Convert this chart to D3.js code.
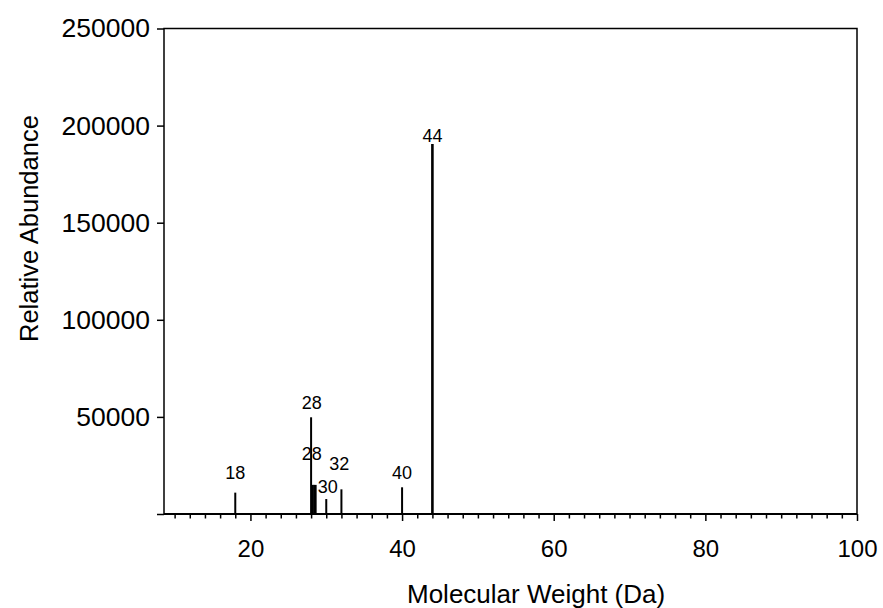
<!DOCTYPE html>
<html>
<head>
<meta charset="utf-8">
<script src="https://cdn.jsdelivr.net/npm/d3@7"></script>
<style>
  body { margin: 0; background: #fff; }
  text { font-family: "Liberation Sans", Arial, sans-serif; fill: #000; }
</style>
</head>
<body>
<svg id="chart" width="883" height="608"></svg>
<script>
// peak positions (m/z) and their heights
const peakMz = [18, 28, 28.2, 28.4, 28.6, 30, 32, 40, 44];
const peakAbundance = [11000, 49800, 15000, 15000, 15000, 7700, 12700, 13750, 190500];

// peak labels: text, where it sits (m/z) and at which abundance its baseline is
const labelText = ["18", "28", "28", "30", "32", "40", "44"];
const labelMz = [18, 28.1, 28.1, 30.2, 31.7, 40, 44];
const labelAbundance = [18000, 54000, 27800, 10800, 22600, 18000, 191700];

const xMajorTicks = [20, 40, 60, 80, 100];
const xMinorTicks = [10, 12, 14, 16, 18, 22, 24, 26, 28, 30, 32, 34, 36, 38, 42, 44, 46, 48, 50, 52, 54, 56, 58,
                     62, 64, 66, 68, 70, 72, 74, 76, 78, 82, 84, 86, 88, 90, 92, 94, 96, 98];
const yTicks = [0, 50000, 100000, 150000, 200000, 250000];

///// SETUP /////
var margin = {top: 28.5, right: 26, bottom: 94, left: 164},
    width = 883,
    height = 608;

var svg = d3.select("#chart");

let x = d3.scaleLinear()
    .domain([8.6, 100])
    .range([margin.left, width - margin.right]);

let y = d3.scaleLinear()
    .domain([0, 250000])
    .range([height - margin.bottom, margin.top]);

///// AXES /////
// minor ticks on x
svg.append("g")
    .attr("transform", "translate(0," + y(0) + ")")
    .call(d3.axisBottom(x).tickValues(xMinorTicks).tickSize(4.5).tickFormat(""))
    .call(g => g.select(".domain").remove())
    .selectAll("line").attr("stroke-width", 1.5);

// major ticks + labels on x
svg.append("g")
    .attr("transform", "translate(0," + y(0) + ")")
    .call(d3.axisBottom(x).tickValues(xMajorTicks).tickSize(7).tickPadding(19))
    .call(g => g.select(".domain").remove())
    .call(g => g.selectAll("line").attr("stroke-width", 1.5))
    .selectAll("text")
        .style("font-size", "24px");

// y axis
svg.append("g")
    .attr("transform", "translate(" + x(8.6) + ",0)")
    .call(d3.axisLeft(y).tickValues(yTicks).tickSize(7).tickPadding(7)
        .tickFormat(d => d === 0 ? "" : d))
    .call(g => g.select(".domain").remove())
    .call(g => g.selectAll("line").attr("stroke-width", 1.5))
    .selectAll("text")
        .style("font-size", "26.5px");

// frame: left, top, right
svg.append("path")
    .attr("d", "M" + x(8.6) + "," + y(0) + "V" + y(250000) + "H" + x(100) + "V" + y(0))
    .attr("fill", "none")
    .attr("stroke", "black")
    .attr("stroke-width", 1.5);

// x axis line, a bit heavier
svg.append("line")
    .attr("x1", x(8.6)).attr("x2", x(100))
    .attr("y1", y(0)).attr("y2", y(0))
    .attr("stroke", "black")
    .attr("stroke-width", 2.2);

///// PEAKS /////
svg.append("g")
    .selectAll("line")
    .data(peakMz)
    .join("line")
        .attr("x1", d => x(d))
        .attr("x2", d => x(d))
        .attr("y1", y(0))
        .attr("y2", (d, i) => y(peakAbundance[i]))
        .attr("stroke", "black")
        .attr("stroke-width", (d, i) => peakAbundance[i] > 100000 ? 2.6 : 2);

svg.append("g")
    .selectAll("text")
    .data(labelText)
    .join("text")
        .attr("x", (d, i) => x(labelMz[i]))
        .attr("y", (d, i) => y(labelAbundance[i]))
        .attr("text-anchor", "middle")
        .style("font-size", "18px")
        .text(d => d);

///// TITLES /////
svg.append("text")
    .attr("transform", "translate(38,342) rotate(-90)")
    .attr("text-anchor", "start")
    .style("font-size", "25.5px")
    .text("Relative Abundance");

svg.append("text")
    .attr("x", 407)
    .attr("y", 603)
    .attr("text-anchor", "start")
    .style("font-size", "26px")
    .text("Molecular Weight (Da)");
</script>
</body>
</html>
